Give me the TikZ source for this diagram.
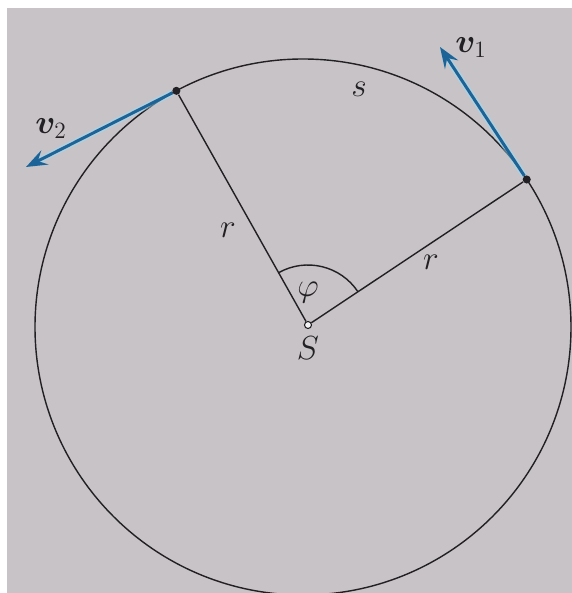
\RequirePackage{fix-cm}
\documentclass[tikz,border=0pt]{standalone}
\usepackage{amsmath}
\usepackage{bm}
\usetikzlibrary{
    arrows.meta,
    calc,
    angles
}

\definecolor{paper}{RGB}{199,195,198}
\definecolor{ink}{RGB}{34,32,36}
\definecolor{vecblue}{RGB}{28,100,152}

\begin{document}
\begin{tikzpicture}[
    font=\fontsize{19}{22}\selectfont,
    every node/.style={text=ink},
    rim/.style={draw=ink, line width=0.8pt},
    radius line/.style={draw=ink, line width=0.8pt},
    dot/.style={circle, fill=ink, inner sep=0pt, minimum size=4.6pt},
    hole/.style={circle, draw=ink, fill=white!80!paper, line width=0.6pt,
        inner sep=0pt, minimum size=4pt},
    vec/.style={
        -{Stealth[length=12pt, width=9pt, inset=4.5pt]},
        draw=vecblue, line width=1.7pt,
        preaction={draw=cyan!40!white, line width=3.6pt, opacity=0.45}
    }
]

\def\rr{5.36}

% ============================================================
% PAGE
% ============================================================

\useasboundingbox (0,0) rectangle (11.44,11.86);
\fill[white] (0,0) rectangle (11.44,11.86);
\fill[paper] (0.14,0) rectangle (11.44,11.70);

% ============================================================
% CIRCLE AND RADII
% ============================================================

\coordinate (O) at (6.06,5.32);
\draw[rim] (O) circle[radius=\rr];

\node[hole] (S) at (6.16,5.36) {};
\node[dot] (P1) at ($(O)+(33.4:\rr)$) {};
\node[dot] (P2) at ($(O)+(118.2:\rr)$) {};

\draw[radius line] (S) -- (P1);
\draw[radius line] (S) -- (P2);

\pic[draw=ink, line width=0.8pt, angle radius=1.2cm] {angle=P1--S--P2};

% ============================================================
% VELOCITIES
% ============================================================

\coordinate (V1) at (8.80,10.92);
\coordinate (V2) at (0.52,8.52);

\draw[vec] (P1) -- (V1);
\draw[vec] (P2) -- (V2);

% ============================================================
% LABELS
% ============================================================

\node (lv1) at (9.42,10.90) {$\bm{v}_1$};
\node (lv2) at (1.02,9.28) {$\bm{v}_2$};
\node (ls) at (7.18,10.08) {$s$};
\node (lr2) at (4.56,7.26) {$r$};
\node (lr1) at (8.62,6.62) {$r$};
\node (lphi) at (6.16,6.00) {$\varphi$};
\node (lS) at (6.16,4.90) {$S$};

\end{tikzpicture}
\end{document}
